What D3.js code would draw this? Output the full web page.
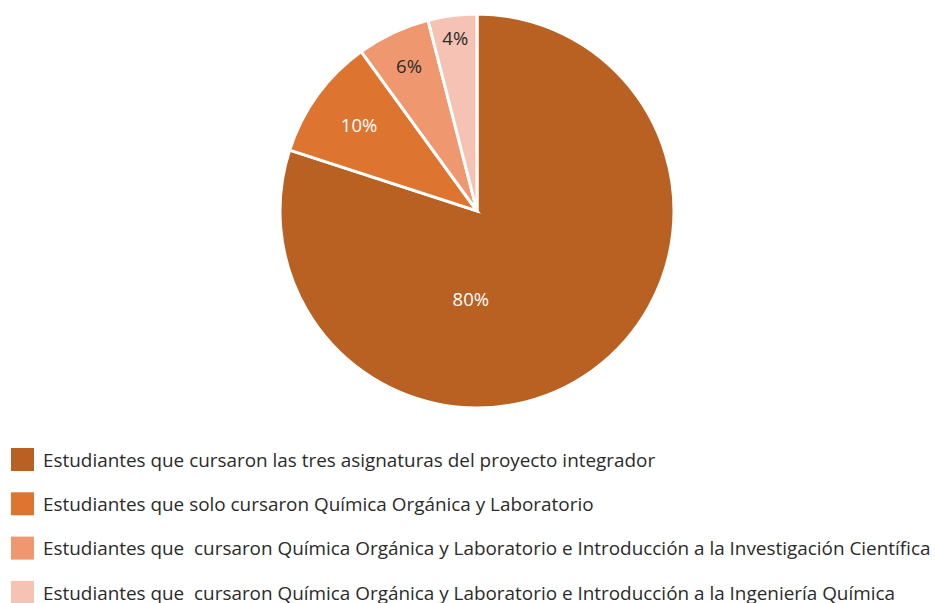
<!DOCTYPE html>
<html>
<head>
<meta charset="utf-8">
<script src="https://cdn.jsdelivr.net/npm/d3@7"></script>
<style>
  body { margin: 0; background: #fff; }
  text { font-family: "Open Sans", "Liberation Sans", sans-serif; }
</style>
</head>
<body>
<div id="pie"></div>
<script>
// categories and shares (percent)
const categories = [
  "Estudiantes que cursaron las tres asignaturas del proyecto integrador",
  "Estudiantes que solo cursaron Química Orgánica y Laboratorio",
  "Estudiantes que  cursaron Química Orgánica y Laboratorio e Introducción a la Investigación Científica",
  "Estudiantes que  cursaron Química Orgánica y Laboratorio e Introducción a la Ingeniería Química"
];
const values = [80, 10, 6, 4];
const labels = ["80%", "10%", "6%", "4%"];

const colors = ["#b86123", "#dd742f", "#ef9870", "#f5c2b3"];
const labelColors = ["#ffffff", "#ffffff", "#2b2b2b", "#2b2b2b"];
// label placement: [angle in degrees (null = slice middle), radius fraction]
const labelPlace = [[184, 0.45], [null, 0.74], [null, 0.81], [null, 0.88]];

const width = 935, height = 603;
const cx = 477, cy = 211, radius = 197;

const svg = d3.select("#pie")
  .append("svg")
    .attr("width", width)
    .attr("height", height);

const g = svg.append("g")
  .attr("transform", `translate(${cx}, ${cy})`);

const pie = d3.pie().sort(null).value(d => d);
const arcs = pie(values);

const arc = d3.arc().innerRadius(0).outerRadius(radius);

g.selectAll("path")
  .data(arcs)
  .join("path")
    .attr("d", arc)
    .attr("fill", (d, i) => colors[i])
    .attr("stroke", "#fff")
    .attr("stroke-width", 3)
    .attr("stroke-linejoin", "miter");

// labels on slices
g.selectAll("text.pct")
  .data(arcs)
  .join("text")
    .attr("class", "pct")
    .attr("transform", (d, i) => {
      const p = labelPlace[i];
      const a = p[0] === null ? (d.startAngle + d.endAngle) / 2 : p[0] * Math.PI / 180;
      const r = radius * p[1];
      return `translate(${r * Math.sin(a)}, ${-r * Math.cos(a)})`;
    })
    .attr("text-anchor", "middle")
    .attr("dy", "0.35em")
    .attr("font-size", "18.5px")
    .attr("fill", (d, i) => labelColors[i])
    .text((d, i) => labels[i]);

// legend
const legend = svg.append("g")
  .attr("transform", "translate(11, 448)");

const rows = legend.selectAll("g")
  .data(categories)
  .join("g")
    .attr("transform", (d, i) => `translate(0, ${i * 44.3})`);

rows.append("rect")
  .attr("width", 23)
  .attr("height", 23)
  .attr("fill", (d, i) => colors[i]);

rows.append("text")
  .attr("x", 32)
  .attr("y", 12)
  .attr("dy", "0.35em")
  .attr("font-size", "18.9px")
  .attr("fill", "#2b2b2b")
  .style("white-space", "pre")
  .text(d => d);
</script>
</body>
</html>
